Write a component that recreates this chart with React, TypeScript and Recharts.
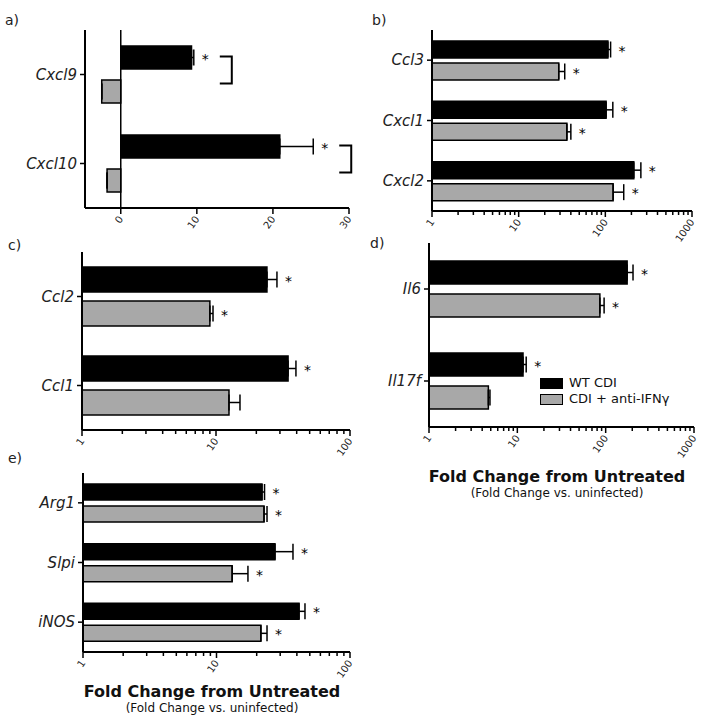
import { Bar, BarChart, ErrorBar, LabelList, Legend, ReferenceLine, XAxis, YAxis } from "recharts";

// a) linear axis
const aGenes = ["Cxcl9", "Cxcl10"];
const aWt = [9.3, 20.9];
const aWtErr = [0.3, 4.4];
const aAnti = [-2.5, -1.8];
const aAntiErr = [0, 0];
const aWtStar = ["*", "*"];
const aAntiStar = ["", ""];
const aTicks = [0, 10, 20, 30];

// b) log axis
const bGenes = ["Ccl3", "Cxcl1", "Cxcl2"];
const bWt = [107, 102, 213];
const bWtErr = [8, 20, 44];
const bAnti = [29, 36, 123];
const bAntiErr = [5, 4, 40];
const bWtStar = ["*", "*", "*"];
const bAntiStar = ["*", "*", "*"];

// c) log axis
const cGenes = ["Ccl2", "Ccl1"];
const cWt = [24, 34.5];
const cWtErr = [4.5, 5];
const cAnti = [9, 12.5];
const cAntiErr = [0.5, 2.6];
const cWtStar = ["*", "*"];
const cAntiStar = ["*", ""];

// d) log axis
const dGenes = ["Il6", "Il17f"];
const dWt = [175, 11.6];
const dWtErr = [29, 1];
const dAnti = [86, 4.7];
const dAntiErr = [10, 0.2];
const dWtStar = ["*", "*"];
const dAntiStar = ["*", ""];

// e) log axis
const eGenes = ["Arg1", "Slpi", "iNOS"];
const eWt = [21.9, 27.4, 41.5];
const eWtErr = [1, 10, 4.5];
const eAnti = [22.7, 13.1, 21.5];
const eAntiErr = [1.2, 4.1, 2.4];
const eWtStar = ["*", "*", "*"];
const eAntiStar = ["*", "*", "*"];

const ticks100 = [1, 2, 3, 4, 5, 6, 7, 8, 9, 10, 20, 30, 40, 50, 60, 70, 80, 90, 100];
const ticks1000 = [
  1, 2, 3, 4, 5, 6, 7, 8, 9, 10, 20, 30, 40, 50, 60, 70, 80, 90, 100, 200, 300, 400, 500, 600, 700, 800,
  900, 1000,
];
const labels100 = [1, 10, 100];
const labels1000 = [1, 10, 100, 1000];

const legendItems = [
  { label: "WT CDI", color: "#000" },
  { label: "CDI + anti-IFNγ", color: "#a8a8a8" },
];

const font = "'DejaVu Sans', sans-serif";

function rows(g: string[], wt: number[], wtErr: number[], anti: number[], antiErr: number[], ws: string[], as: string[]) {
  return g.map((name, i) => ({
    name,
    wt: wt[i],
    wtErr: wtErr[i],
    anti: anti[i],
    antiErr: antiErr[i],
    wtStar: ws[i],
    antiStar: as[i],
  }));
}

function makeXTick(labels: number[]) {
  return (p: any) => {
    const v = p.payload.value;
    const major = labels.includes(v);
    const tx = p.x + 3;
    const ty = p.y + 11;
    return (
      <g>
        <line x1={p.x} x2={p.x} y1={p.y} y2={p.y + (major ? 6 : 4)} stroke="#000" strokeWidth={1.5} />
        {major && (
          <text x={tx} y={ty} textAnchor="end" fontSize={10} fill="#222" transform={`rotate(-55 ${tx} ${ty})`}>
            {v}
          </text>
        )}
      </g>
    );
  };
}

// star (and optional bracket) after the error bar, placed from the bar's own geometry
function makeStar(series: "wt" | "anti", log: boolean, bracket: boolean) {
  return (p: any) => {
    const d = p.value;
    const vb = p.viewBox ?? p;
    const x = vb.x ?? p.x;
    const y = vb.y ?? p.y;
    const width = vb.width ?? p.width;
    const height = vb.height ?? p.height;
    if (!d || typeof d !== "object") return null;
    const val = d[series];
    const err = d[series + "Err"];
    const star = d[series + "Star"];
    let end = x + width;
    if (log) {
      const k = width / Math.log10(val);
      end = x + k * Math.log10(val + err);
    } else {
      const k = width / val;
      end = x + k * (val + err);
    }
    const yc = y + height / 2;
    return (
      <g>
        {star && (
          <text x={end + 8} y={yc + 6} fontSize={14} fill="#000" stroke="none">
            {star}
          </text>
        )}
        {bracket && (
          <path
            d={`M${end + 26},${yc - 1} H${end + 38} V${yc + height + 3} H${end + 26}`}
            stroke="#000"
            strokeWidth={2}
            fill="none"
          />
        )}
      </g>
    );
  };
}

type PanelProps = {
  left: number;
  top: number;
  width: number;
  height: number;
  margin: { top: number; right: number; bottom: number; left: number };
  yWidth: number;
  xHeight: number;
  data: any[];
  log: boolean;
  domain: [number, number];
  ticks: number[];
  labels: number[];
  barSize: number;
  barGap: number;
  bracket?: boolean;
  legend?: boolean;
};

function Panel(props: PanelProps) {
  const { log } = props;
  return (
    <div style={{ position: "absolute", left: props.left, top: props.top }}>
      <BarChart
        width={props.width}
        height={props.height}
        data={props.data}
        layout="vertical"
        margin={props.margin}
        barSize={props.barSize}
        barGap={props.barGap}
      >
        <XAxis
          type="number"
          scale={log ? "log" : "linear"}
          domain={props.domain}
          allowDataOverflow
          ticks={props.ticks}
          interval={0}
          height={props.xHeight}
          tickSize={0}
          tickMargin={0}
          tickLine={false}
          tick={makeXTick(props.labels)}
          axisLine={{ stroke: "#000", strokeWidth: 2 }}
        />
        <YAxis
          type="category"
          dataKey="name"
          width={props.yWidth}
          tickSize={5}
          tickMargin={3}
          tickLine={{ stroke: "#000", strokeWidth: 1.5 }}
          axisLine={{ stroke: "#000", strokeWidth: 2 }}
          tick={{ fontStyle: "italic", fontSize: 15, fill: "#222" }}
        />
        {!log && <ReferenceLine x={0} stroke="#000" strokeWidth={1.5} />}
        <Bar dataKey="wt" fill="#000" stroke="#000" strokeWidth={1.5} isAnimationActive={false}>
          <ErrorBar
            dataKey={(d: any) => [0, d.wtErr]}
            direction="x"
            width={8}
            stroke="#000"
            strokeWidth={1.5}
            isAnimationActive={false}
          />
          <LabelList dataKey={(d: any) => d} content={makeStar("wt", log, !!props.bracket)} />
        </Bar>
        <Bar dataKey="anti" fill="#a8a8a8" stroke="#000" strokeWidth={1.5} isAnimationActive={false}>
          <ErrorBar
            dataKey={(d: any) => [0, d.antiErr]}
            direction="x"
            width={8}
            stroke="#000"
            strokeWidth={1.5}
            isAnimationActive={false}
          />
          <LabelList dataKey={(d: any) => d} content={makeStar("anti", log, false)} />
        </Bar>
        {props.legend && (
          <Legend
            layout="vertical"
            align="center"
            verticalAlign="middle"
            wrapperStyle={{ left: 180, top: 145, width: "auto" }}
            content={() => (
              <div style={{ fontSize: 13, lineHeight: "16px", fontFamily: font, color: "#111" }}>
                {legendItems.map((it) => (
                  <div key={it.label} style={{ display: "flex", alignItems: "center" }}>
                    <span
                      style={{
                        display: "inline-block",
                        width: 21,
                        height: 9,
                        background: it.color,
                        border: "1.5px solid #000",
                        marginRight: 6,
                      }}
                    />
                    {it.label}
                  </div>
                ))}
              </div>
            )}
          />
        )}
      </BarChart>
    </div>
  );
}

const panelLabel = (text: string, left: number, top: number) => (
  <div style={{ position: "absolute", left, top, fontSize: 14, color: "#222" }}>{text}</div>
);

function Title({ cx, top }: { cx: number; top: number }) {
  return (
    <div style={{ position: "absolute", left: cx - 160, top, width: 320, textAlign: "center", color: "#111" }}>
      <div style={{ fontWeight: "bold", fontSize: 16, lineHeight: "19px" }}>Fold Change from Untreated</div>
      <div style={{ fontSize: 12, lineHeight: "15px" }}>(Fold Change vs. uninfected)</div>
    </div>
  );
}

export default function App() {
  return (
    <div
      style={{
        position: "absolute",
        left: 0,
        top: 0,
        width: 704,
        height: 727,
        background: "#fff",
        fontFamily: font,
      }}
    >
      {panelLabel("a)", 5, 12)}
      {panelLabel("b)", 372, 12)}
      {panelLabel("c)", 8, 237)}
      {panelLabel("d)", 370, 235)}
      {panelLabel("e)", 8, 450)}
      <Panel
        left={0}
        top={0}
        width={360}
        height={240}
        margin={{ top: 30, right: 11, bottom: 2, left: 10 }}
        yWidth={75}
        xHeight={30}
        data={rows(aGenes, aWt, aWtErr, aAnti, aAntiErr, aWtStar, aAntiStar)}
        log={false}
        domain={[-4.7, 30]}
        ticks={aTicks}
        labels={aTicks}
        barSize={23}
        barGap={11}
        bracket
      />
      <Panel
        left={360}
        top={0}
        width={344}
        height={254}
        margin={{ top: 30, right: 12, bottom: 16, left: 10 }}
        yWidth={62}
        xHeight={27}
        data={rows(bGenes, bWt, bWtErr, bAnti, bAntiErr, bWtStar, bAntiStar)}
        log
        domain={[1, 1000]}
        ticks={ticks1000}
        labels={labels1000}
        barSize={17}
        barGap={5}
      />
      <Panel
        left={0}
        top={230}
        width={360}
        height={240}
        margin={{ top: 22, right: 10, bottom: 10, left: 10 }}
        yWidth={72}
        xHeight={30}
        data={rows(cGenes, cWt, cWtErr, cAnti, cAntiErr, cWtStar, cAntiStar)}
        log
        domain={[1, 100]}
        ticks={ticks100}
        labels={labels100}
        barSize={25}
        barGap={9}
      />
      <Panel
        left={360}
        top={230}
        width={344}
        height={230}
        margin={{ top: 13, right: 10, bottom: 3, left: 10 }}
        yWidth={59}
        xHeight={30}
        data={rows(dGenes, dWt, dWtErr, dAnti, dAntiErr, dWtStar, dAntiStar)}
        log
        domain={[1, 1000]}
        ticks={ticks1000}
        labels={labels1000}
        barSize={23}
        barGap={10}
        legend
      />
      <Panel
        left={0}
        top={460}
        width={360}
        height={222}
        margin={{ top: 13, right: 10, bottom: 0, left: 10 }}
        yWidth={73}
        xHeight={30}
        data={rows(eGenes, eWt, eWtErr, eAnti, eAntiErr, eWtStar, eAntiStar)}
        log
        domain={[1, 100]}
        ticks={ticks100}
        labels={labels100}
        barSize={16}
        barGap={6}
      />
      <Title cx={557} top={467} />
      <Title cx={212} top={682} />
    </div>
  );
}
